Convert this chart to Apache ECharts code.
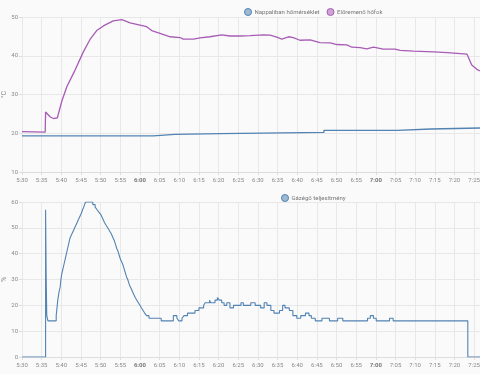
<!DOCTYPE html>
<html>
<head>
<meta charset="utf-8">
<script src="https://cdn.jsdelivr.net/npm/echarts@6/dist/echarts.min.js"></script>
<style>html,body{margin:0;padding:0;background:#fafafa}#c{width:480px;height:374px}</style>
</head>
<body>
<div id="c"></div>
<script>
// times are minutes after 5:30
const flowTimes = [0,5.9,6.0,6.4,7.2,8.0,9.0,10.1,11.4,13.5,15.6,17.3,19,20.7,23.2,25.4,27.5,30,31.7,33,35.1,37.7,40.2,41,43.6,45.3,47.8,50.8,52.9,55.5,58,61.4,63.1,64.8,66.1,67.8,69,70.7,73.3,75.8,78.4,80.1,82.6,83.9,86,87.7,89.4,91.9,94.9,96.2,99.6,104.7,108.1,113.2,113.6,114.4,115.7,116.5];
const flowTemp  = [20.4,20.3,25.5,25.3,24.2,23.8,24.0,28.2,32,36.3,41,44.2,46.5,47.7,49,49.3,48.5,47.9,47.5,46.5,45.8,44.9,44.7,44.3,44.3,44.6,44.9,45.4,45.1,45.1,45.2,45.4,45.3,44.8,44.3,44.9,44.7,44.0,44.1,43.4,43.3,42.9,42.8,42.2,42.1,41.8,42.2,41.7,41.7,41.4,41.2,41.0,40.8,40.4,40.0,37.6,36.5,36.1];

const roomTimes = [0,33.4,38.9,50.4,76.8,95.5,104,116.5];
const roomTemp  = [19.3,19.7,19.9,20.2,20.75,21.1,21.35,21.35];

const burnerTimes = [0,6.0,6.15,6.3,6.6,8.7,8.9,9.1,9.4,9.7,9.9,10.1,10.4,10.7,11.0,11.3,11.6,11.9,12.2,12.5,12.8,13.1,13.4,13.7,14.0,14.3,14.6,14.9,15.2,15.4,15.7,15.9,16.2,
 18.0,18.6,19.1,19.6,20.1,20.4,20.7,21.0,21.4,21.8,22.2,22.6,22.9,23.2,23.5,23.7,23.9,24.1,24.4,24.6,24.8,25.0,25.3,25.6,25.8,26.0,26.2,26.4,26.6,26.9,27.1,27.3,27.6,27.9,28.2,28.5,28.8,29.2,29.6,30.0,30.4,30.8,31.2,31.7,32.3,
 35.4,38.5,39.4,39.9,40.7,41.2,42.1,44,45,46.2,46.6,47.7,48,49.1,49.7,50.2,50.8,51.4,52.1,52.9,53.8,55.7,56.3,58.2,59.3,60.7,61.6,62.3,63.3,64.1,65.5,66.3,66.9,68,68.9,69.9,70.9,72.1,73,73.6,74.6,76.3,77.4,78.2,80.3,81.6,87.9,88.6,89.4,90.1,93.5,94.4,113.4,116.5];
const burnerPower = [0,57,31,16,14,16,19,22,25,27,30,32,34,36,38,40,42,44,46,47,48,49,50,51,52,53,54,55,56,57,58,59,60,
 59,58,57,56,55,54,53,52,51,50,49,48,47,46,45,44,43,42,41,40,39,38,37,36,35,34,33,32,31,30,29,28,27,26,25,24,23,22,21,20,19,18,17,16,15,
 14,16,15,14,15,16,17,18,19,20,21,22,21,22,23,22,21,20,21,19,20,21,20,21,20,19,21,20,18,17,18,20,19,18,16,15,16,17,16,15,14,15,15,14,15,14,15,16,15,14,15,14,0,0];

const xTickLabel = v => {
  const t = 330 + v;
  const h = Math.floor(t / 60), m = Math.round(t % 60);
  const s = h + ':' + (m < 10 ? '0' + m : m);
  return m === 0 ? '{b|' + s + '}' : s;
};

const pair = (xs, ys) => xs.map((x, i) => [x, ys[i]]);

const BLUE = '#5283b2', PURPLE = '#a85cb5';
const gridLine = {show: true, lineStyle: {color: '#e8e8e8', width: 1}};
const xAxisBase = {
  type: 'value', min: 0, max: 116.5, interval: 5,
  axisLine: {show: true, lineStyle: {color: '#dddddd'}},
  axisTick: {show: true, length: 3, lineStyle: {color: '#dddddd'}},
  splitLine: gridLine,
  axisLabel: {formatter: xTickLabel, fontSize: 6, color: '#8a8a8a', margin: 5, showMaxLabel: false,
    rich: {b: {fontSize: 6, fontWeight: 'bold', color: '#777'}}}
};
const yAxisBase = {
  type: 'value', nameLocation: 'middle', nameRotate: 90, nameGap: 14, nameMoveOverlap: false,
  nameTextStyle: {fontSize: 7, color: '#888'},
  axisLine: {show: false},
  axisTick: {show: true, length: 3, lineStyle: {color: '#dddddd'}},
  splitLine: gridLine,
  axisLabel: {fontSize: 6, color: '#8a8a8a', margin: 4}
};

const chart = echarts.init(document.getElementById('c'), null, {renderer: 'canvas'});
chart.setOption({
  backgroundColor: '#fafafa',
  animation: false,
  textStyle: {fontFamily: 'Roboto, sans-serif'},
  legend: [
    {left: 239, top: 3, itemWidth: 7, itemHeight: 7, itemGap: 7, icon: 'circle',
     textStyle: {fontSize: 6, color: '#777', padding: [0, 0, 0, -2]},
     data: [
       {name: 'Nappaliban hőmérséklet', itemStyle: {color: 'rgba(82,131,178,0.55)', borderColor: BLUE, borderWidth: 1}},
       {name: 'Előremenő hőfok', itemStyle: {color: 'rgba(168,92,181,0.55)', borderColor: PURPLE, borderWidth: 1}}
     ]},
    {left: 276, top: 189, itemWidth: 7, itemHeight: 7, icon: 'circle',
     textStyle: {fontSize: 6, color: '#777', padding: [0, 0, 0, -2]},
     data: [{name: 'Gázégő teljesítmény', itemStyle: {color: 'rgba(82,131,178,0.55)', borderColor: BLUE, borderWidth: 1}}]}
  ],
  grid: [
    {left: 22, right: 0, top: 17, height: 155, containLabel: false, outerBoundsMode: 'none'},
    {left: 22, right: 0, top: 202, height: 155, containLabel: false, outerBoundsMode: 'none'}
  ],
  xAxis: [
    Object.assign({gridIndex: 0}, xAxisBase),
    Object.assign({gridIndex: 1}, xAxisBase)
  ],
  yAxis: [
    Object.assign({}, yAxisBase, {gridIndex: 0, name: '°C', min: 10, max: 50, interval: 10}),
    Object.assign({}, yAxisBase, {gridIndex: 1, name: '%', min: 0, max: 60, interval: 10})
  ],
  series: [
    {name: 'Nappaliban hőmérséklet', type: 'line', xAxisIndex: 0, yAxisIndex: 0, step: 'end',
     symbol: 'none', data: pair(roomTimes, roomTemp), lineStyle: {color: BLUE, width: 1.3}, itemStyle: {color: BLUE}},
    {name: 'Előremenő hőfok', type: 'line', xAxisIndex: 0, yAxisIndex: 0,
     symbol: 'none', data: pair(flowTimes, flowTemp), lineStyle: {color: PURPLE, width: 1.3}, itemStyle: {color: PURPLE}},
    {name: 'Gázégő teljesítmény', type: 'line', xAxisIndex: 1, yAxisIndex: 1, step: 'end',
     symbol: 'none', data: pair(burnerTimes, burnerPower), lineStyle: {color: BLUE, width: 1.1}, itemStyle: {color: BLUE}}
  ]
});
</script>
</body>
</html>
